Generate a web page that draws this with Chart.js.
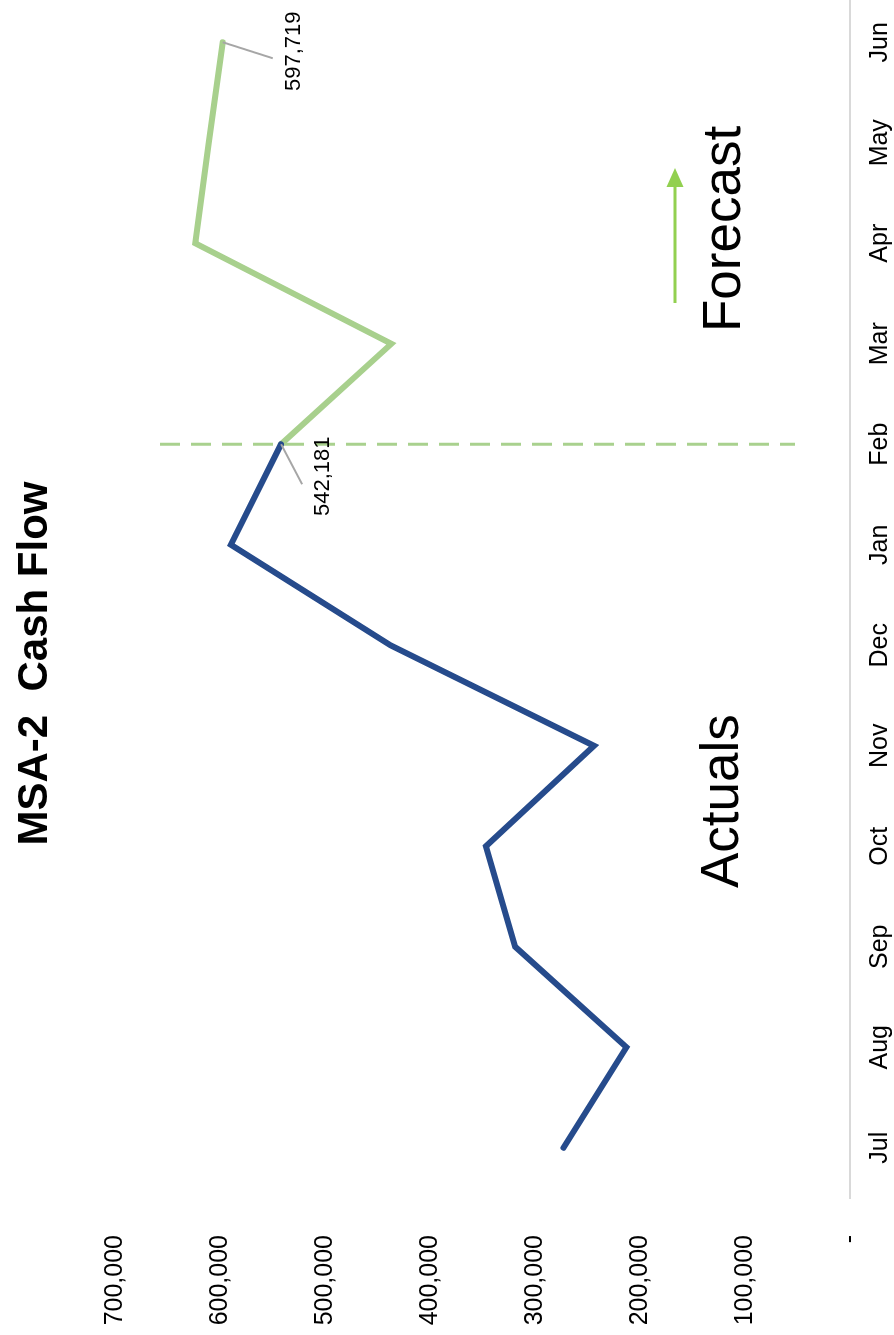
<!DOCTYPE html>
<html>
<head>
<meta charset="utf-8">
<script src="https://cdn.jsdelivr.net/npm/chart.js@4.4.0/dist/chart.umd.min.js"></script>
<style>
  html, body { margin: 0; padding: 0; background: #fff; overflow: hidden; }
  #wrap {
    position: absolute; left: 0; top: 0;
    width: 1335px; height: 894px; overflow: hidden;
    transform-origin: 0 0;
    transform: translate(0, 1335px) rotate(-90deg);
  }
</style>
</head>
<body>
<div id="wrap"><canvas id="myChart" width="1343" height="894"></canvas></div>
<script>
var months = ['Jul', 'Aug', 'Sep', 'Oct', 'Nov', 'Dec', 'Jan', 'Feb', 'Mar', 'Apr', 'May', 'Jun']
var actuals = [273000, 213000, 319000, 347000, 244000, 438000, 590000, 542181, null, null, null, null]
var forecast = [null, null, null, null, null, null, null, 542181, 437000, 624000, 611000, 597719]
var yTicks = [0, 100000, 200000, 300000, 400000, 500000, 600000, 700000]

var font = '"Liberation Sans", Arial, sans-serif'

function fmt(v) {
  return v === 0 ? '-' : v.toLocaleString('en-US')
}

// extras: split line, arrow, big labels, value callouts
var extras = {
  id: 'extras',
  afterDatasetsDraw: function (chart) {
    var ctx = chart.ctx
    var x = chart.scales.x
    var y = chart.scales.y
    ctx.save()

    // dashed divider at Feb
    var fx = x.getPixelForValue(7)
    ctx.strokeStyle = '#a9d18e'
    ctx.lineWidth = 3
    ctx.setLineDash([20, 11])
    ctx.beginPath()
    ctx.moveTo(fx, 160)
    ctx.lineTo(fx, 795)
    ctx.stroke()
    ctx.setLineDash([])

    // arrow
    ctx.strokeStyle = '#92d050'
    ctx.fillStyle = '#92d050'
    ctx.lineWidth = 3
    ctx.beginPath()
    ctx.moveTo(1032, 675)
    ctx.lineTo(1150, 675)
    ctx.stroke()
    ctx.beginPath()
    ctx.moveTo(1167, 675)
    ctx.lineTo(1148, 666.5)
    ctx.lineTo(1148, 683.5)
    ctx.closePath()
    ctx.fill()

    // Actuals / Forecast
    ctx.fillStyle = '#000'
    ctx.font = '53px ' + font
    ctx.textAlign = 'left'
    ctx.textBaseline = 'alphabetic'
    ctx.fillText('Actuals', 447, 738)
    ctx.fillText('Forecast', 1003, 740)

    // value callouts
    var callouts = [
      { i: 7, v: 542181, lx: -40, ly: 21, tx: -32, ty: 42 },
      { i: 11, v: 597719, lx: -16, ly: 50, tx: -9, ty: 71 }
    ]
    ctx.font = '22px ' + font
    ctx.textAlign = 'center'
    ctx.textBaseline = 'middle'
    callouts.forEach(function (c) {
      var px = x.getPixelForValue(c.i)
      var py = y.getPixelForValue(c.v)
      ctx.strokeStyle = '#a6a6a6'
      ctx.lineWidth = 2
      ctx.beginPath()
      ctx.moveTo(px, py)
      ctx.lineTo(px + c.lx, py + c.ly)
      ctx.stroke()
      ctx.fillStyle = '#000'
      ctx.fillText(fmt(c.v), px + c.tx, py + c.ty)
    })
    ctx.restore()
  }
}

var chart = new Chart(document.getElementById('myChart').getContext('2d'), {
  type: 'line',
  data: {
    labels: months,
    datasets: [
      {
        label: 'Actuals',
        data: actuals,
        borderColor: '#264b8c',
        borderWidth: 6,
        borderCapStyle: 'round',
        pointRadius: 0,
        tension: 0,
        fill: false
      },
      {
        label: 'Forecast',
        data: forecast,
        borderColor: '#a8d08d',
        borderWidth: 6,
        borderCapStyle: 'round',
        pointRadius: 0,
        tension: 0,
        fill: false
      }
    ]
  },
  options: {
    responsive: false,
    animation: false,
    layout: { padding: 0 },
    plugins: {
      legend: { display: false },
      tooltip: { enabled: false },
      title: {
        display: true,
        text: 'MSA-2  Cash Flow',
        color: '#000',
        font: { family: font, size: 42, weight: 'bold', lineHeight: 1.2 },
        padding: { top: 10, bottom: 55 }
      }
    },
    scales: {
      x: {
        offset: true,
        grid: { display: false, drawTicks: false },
        border: { display: true, color: '#d9d9d9', width: 2 },
        ticks: { color: '#000', font: { family: font, size: 25 }, padding: 15, maxRotation: 0 },
        afterFit: function (s) { s.height = 44 }
      },
      y: {
        min: 0,
        max: 700000,
        grid: { display: false, drawTicks: false },
        border: { display: false },
        afterBuildTicks: function (s) { s.ticks = yTicks.map(function (v) { return { value: v } }) },
        ticks: {
          color: '#000',
          font: { family: font, size: 25 },
          padding: 37,
          callback: function (v) { return fmt(v) }
        },
        afterFit: function (s) {
          s.width = 137
          s.paddingTop = 0
          s.paddingBottom = 0
        }
      }
    }
  },
  plugins: [extras]
})
</script>
</body>
</html>
